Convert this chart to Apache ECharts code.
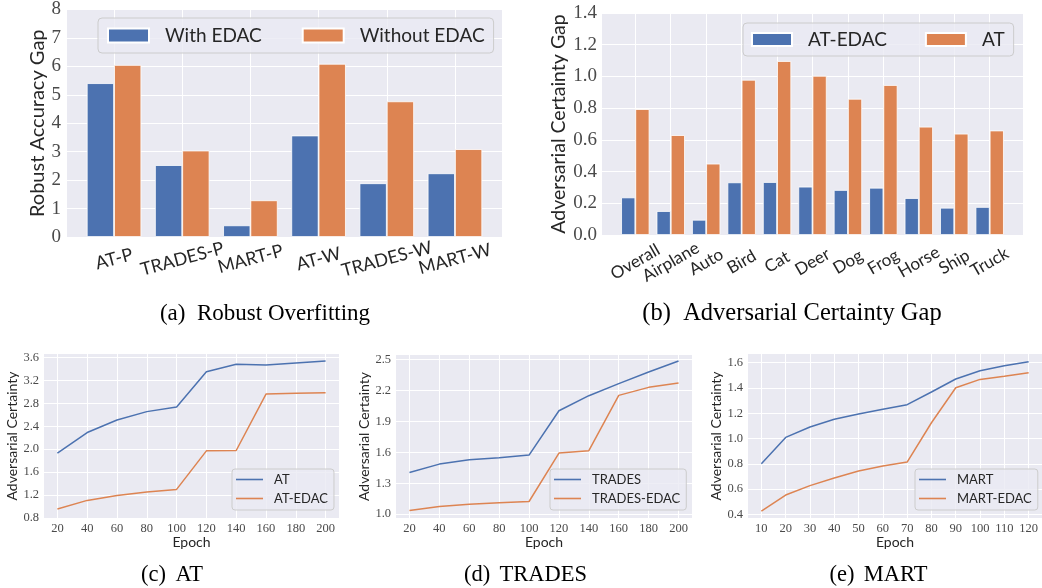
<!DOCTYPE html>
<html><head><meta charset="utf-8">
<script src="https://cdn.jsdelivr.net/npm/echarts@6/dist/echarts.min.js"></script>
<style>
html,body{margin:0;padding:0;background:#fff;}
body{width:1042px;height:588px;position:relative;overflow:hidden;}
.p{position:absolute;left:0;top:0;width:1042px;height:588px;}
</style></head><body>
<div id="ca" class="p"></div><div id="cb" class="p"></div><div id="cc" class="p"></div><div id="cd" class="p"></div><div id="ce" class="p"></div>
<script>
// ---------- data ----------
const overfitCategories = ['AT-P', 'TRADES-P', 'MART-P', 'AT-W', 'TRADES-W', 'MART-W'];
const withEDAC    = [5.41, 2.53, 0.41, 3.57, 1.89, 2.24];
const withoutEDAC = [6.05, 3.04, 1.29, 6.09, 4.77, 3.09];
const overfitYTicks = [0, 1, 2, 3, 4, 5, 6, 7, 8];

const classCategories = ['Overall', 'Airplane', 'Auto', 'Bird', 'Cat', 'Deer', 'Dog', 'Frog', 'Horse', 'Ship', 'Truck'];
const atEdacGap = [0.237, 0.151, 0.096, 0.332, 0.334, 0.305, 0.284, 0.298, 0.233, 0.172, 0.177];
const atGap     = [0.794, 0.630, 0.450, 0.979, 1.097, 1.004, 0.859, 0.946, 0.683, 0.639, 0.659];
const gapYTicks = [0, 0.2, 0.4, 0.6, 0.8, 1.0, 1.2, 1.4];

const epochs200 = [20, 40, 60, 80, 100, 120, 140, 160, 180, 200];
const atCert     = [1.93, 2.29, 2.51, 2.655, 2.736, 3.35, 3.48, 3.47, 3.505, 3.54];
const atEdacCert = [0.957, 1.107, 1.194, 1.252, 1.299, 1.971, 1.977, 2.962, 2.974, 2.986];
const atYTicks = [0.8, 1.2, 1.6, 2.0, 2.4, 2.8, 3.2, 3.6];

const tradesCert     = [1.405, 1.486, 1.528, 1.548, 1.574, 2.004, 2.15, 2.267, 2.38, 2.487];
const tradesEdacCert = [1.036, 1.075, 1.097, 1.110, 1.123, 1.593, 1.616, 2.153, 2.231, 2.273];
const tradesYTicks = [1.0, 1.3, 1.6, 1.9, 2.2, 2.5];

const epochs120 = [10, 20, 30, 40, 50, 60, 70, 80, 90, 100, 110, 120];
const martCert     = [0.801, 1.009, 1.091, 1.152, 1.194, 1.231, 1.268, 1.368, 1.471, 1.537, 1.576, 1.608];
const martEdacCert = [0.426, 0.553, 0.627, 0.688, 0.743, 0.782, 0.814, 1.125, 1.402, 1.468, 1.492, 1.521];
const martYTicks = [0.4, 0.6, 0.8, 1.0, 1.2, 1.4, 1.6];

// ---------- style ----------
const BG = '#EAEAF2', BLUE = '#4C72B0', ORANGE = '#DD8452';
const SERIF = "'Liberation Serif', 'Times New Roman', serif";
const SANS = "Lato, 'DejaVu Sans', sans-serif";
const TXT = '#262626', TICK = '#4a4a4a';
const white = {show: true, lineStyle: {color: '#ffffff', width: 1}};

function caption(x, y, text, size) {
  return {type: 'text', x: x, y: y, silent: true,
    style: {text: text, textAlign: 'center', textVerticalAlign: 'middle',
            font: size + "px 'Liberation Serif', serif", fill: '#000'}};
}

function barOption(cfg) {
  const idx = cfg.cats.map((c, i) => i);
  // empty labels at the axis ends keep every category label from being treated as min/max label
  const labelValues = [cfg.xMin].concat(idx, [cfg.xMax]);
  return {
    animation: false,
    grid: Object.assign({show: true, backgroundColor: BG, borderWidth: 0}, cfg.grid),
    xAxis: {
      type: 'value', min: cfg.xMin, max: cfg.xMax,
      axisLine: {show: false}, axisTick: {show: false, customValues: idx},
      splitLine: white,
      axisLabel: {customValues: labelValues,
        formatter: v => (Math.abs(v - Math.round(v)) < 1e-6 && cfg.cats[Math.round(v)] !== undefined) ? cfg.cats[Math.round(v)] : '',
        hideOverlap: false,
        rotate: cfg.rotate, align: 'center', verticalAlign: 'middle', margin: cfg.labelMargin,
        fontFamily: SANS, fontSize: cfg.xFont, color: TXT}
    },
    yAxis: {
      type: 'value', min: cfg.yTicks[0], max: cfg.yTicks[cfg.yTicks.length - 1],
      axisLine: {show: false}, axisTick: {show: false, customValues: cfg.yTicks},
      splitLine: white,
      axisLabel: {customValues: cfg.yTicks, formatter: cfg.yFmt, margin: cfg.yMargin,
        showMinLabel: true, showMaxLabel: true,
        fontFamily: SERIF, fontSize: 19, color: TICK},
      name: cfg.yName, nameLocation: 'middle', nameGap: cfg.nameGap,
      nameTextStyle: {fontFamily: SANS, fontSize: cfg.nameFont, color: TXT}
    },
    legend: Object.assign({
      orient: 'horizontal', icon: 'rect',
      backgroundColor: 'rgba(234,234,242,0.8)', borderColor: '#cccccc', borderWidth: 1, borderRadius: 4,
      textStyle: {fontFamily: SANS, fontSize: 19, color: TXT, padding: [0, 0, 0, 11]}
    }, cfg.legend),
    graphic: [caption(cfg.capX, cfg.capY, cfg.caption, cfg.capSize)],
    series: [
      {type: 'bar', name: cfg.n1, data: cfg.s1.map((v, i) => [i, v]), barWidth: '40%', barGap: '0%',
       itemStyle: {color: BLUE, borderColor: '#ffffff', borderWidth: 0.8}},
      {type: 'bar', name: cfg.n2, data: cfg.s2.map((v, i) => [i, v]), barWidth: '40%', barGap: '0%',
       itemStyle: {color: ORANGE, borderColor: '#ffffff', borderWidth: 0.8}}
    ]
  };
}

function lineOption(cfg) {
  return {
    animation: false,
    grid: Object.assign({show: true, backgroundColor: BG, borderWidth: 0}, cfg.grid),
    xAxis: {
      type: 'value', min: cfg.xMin, max: cfg.xMax,
      axisLine: {show: false}, axisTick: {show: false, customValues: cfg.x},
      splitLine: white,
      axisLabel: {customValues: cfg.x, margin: 4, showMinLabel: true, showMaxLabel: true,
        fontFamily: SERIF, fontSize: 12.5, color: TICK},
      name: 'Epoch', nameLocation: 'middle', nameGap: 16,
      nameTextStyle: {fontFamily: SANS, fontSize: 14, color: TXT}
    },
    yAxis: {
      type: 'value', min: cfg.yMin, max: cfg.yMax,
      axisLine: {show: false}, axisTick: {show: false, customValues: cfg.yTicks},
      splitLine: white,
      axisLabel: {customValues: cfg.yTicks, formatter: v => v.toFixed(1), margin: 5,
        showMinLabel: true, showMaxLabel: true,
        fontFamily: SERIF, fontSize: 12.5, color: TICK},
      name: 'Adversarial Certainty', nameLocation: 'middle', nameGap: cfg.nameGap,
      nameTextStyle: {fontFamily: SANS, fontSize: 14, color: TXT}
    },
    legend: Object.assign({
      orient: 'vertical', icon: 'rect', itemWidth: 27, itemHeight: 1.6, itemGap: 6,
      padding: [4, 6, 5, 4],
      backgroundColor: 'rgba(234,234,242,0.8)', borderColor: '#cccccc', borderWidth: 1, borderRadius: 3,
      textStyle: {fontFamily: SANS, fontSize: 13, color: TXT, padding: [0, 0, 0, 6]}
    }, cfg.legend),
    graphic: [caption(cfg.capX, cfg.capY, cfg.caption, 22.5)],
    series: [
      {type: 'line', name: cfg.n1, data: cfg.x.map((e, i) => [e, cfg.s1[i]]), symbol: 'none',
       lineStyle: {color: BLUE, width: 1.5}, itemStyle: {color: BLUE}},
      {type: 'line', name: cfg.n2, data: cfg.x.map((e, i) => [e, cfg.s2[i]]), symbol: 'none',
       lineStyle: {color: ORANGE, width: 1.5}, itemStyle: {color: ORANGE}}
    ]
  };
}

function mk(id, opt) {
  const c = echarts.init(document.getElementById(id), null, {renderer: 'canvas', width: 1042, height: 588});
  c.setOption(opt);
}

mk('ca', barOption({
  cats: overfitCategories, s1: withEDAC, s2: withoutEDAC, n1: 'With EDAC', n2: 'Without EDAC',
  grid: {left: 67, top: 8, width: 435, height: 229},
  xMin: -0.69, xMax: 5.69, rotate: 15, labelMargin: 22, xFont: 18,
  yTicks: overfitYTicks, yFmt: v => String(Math.round(v)), yMargin: 6,
  yName: 'Robust Accuracy Gap', nameGap: 19, nameFont: 20,
  legend: {left: 98, top: 18, itemWidth: 41, itemHeight: 14, itemGap: 40, padding: [8, 9, 8, 9]},
  capX: 265, capY: 314, caption: '(a)  Robust Overfitting', capSize: 23
}));

mk('cb', barOption({
  cats: classCategories, s1: atEdacGap, s2: atGap, n1: 'AT-EDAC', n2: 'AT',
  grid: {left: 602, top: 13, width: 421, height: 222},
  xMin: -0.94, xMax: 10.94, rotate: 30, labelMargin: 27, xFont: 17,
  yTicks: gapYTicks, yFmt: v => v.toFixed(1), yMargin: 5,
  yName: 'Adversarial Certainty Gap', nameGap: 33, nameFont: 19.5,
  legend: {left: 743, top: 23, itemWidth: 40, itemHeight: 13, itemGap: 38, padding: [7, 9, 7, 8]},
  capX: 792, capY: 314, caption: '(b)  Adversarial Certainty Gap', capSize: 24.5
}));

mk('cc', lineOption({
  x: epochs200, s1: atCert, s2: atEdacCert, n1: 'AT', n2: 'AT-EDAC',
  grid: {left: 44, top: 354, width: 295, height: 164},
  xMin: 11, xMax: 209, yMin: 0.8, yMax: 3.66, yTicks: atYTicks, nameGap: 23,
  legend: {left: 232, top: 469},
  capX: 172, capY: 575, caption: '(c) \u2006AT'
}));

mk('cd', lineOption({
  x: epochs200, s1: tradesCert, s2: tradesEdacCert, n1: 'TRADES', n2: 'TRADES-EDAC',
  grid: {left: 396, top: 355, width: 296, height: 163},
  xMin: 11, xMax: 209, yMin: 0.963, yMax: 2.545, yTicks: tradesYTicks, nameGap: 23,
  legend: {left: 550, top: 469},
  capX: 525.5, capY: 575, caption: '(d) \u2006TRADES'
}));

mk('ce', lineOption({
  x: epochs120, s1: martCert, s2: martEdacCert, n1: 'MART', n2: 'MART-EDAC',
  grid: {left: 748, top: 354, width: 294, height: 164},
  xMin: 4.5, xMax: 125.5, yMin: 0.371, yMax: 1.669, yTicks: martYTicks, nameGap: 23,
  legend: {left: 915, top: 469},
  capX: 878.5, capY: 575, caption: '(e) \u2006MART'
}));
</script>
</body></html>
